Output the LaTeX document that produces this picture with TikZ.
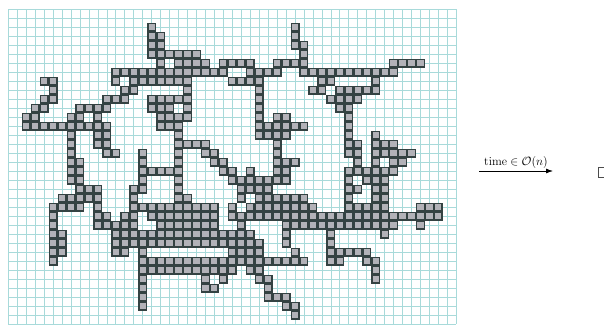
\documentclass[tikz,border=0pt]{standalone}
\usetikzlibrary{arrows.meta}
\definecolor{gridc}{RGB}{168,218,218}
\definecolor{cellfill}{RGB}{178,178,184}
\definecolor{celldraw}{RGB}{52,66,66}
\tikzset{
  gridline/.style={draw=gridc, line width=0.7pt},
  cellbox/.style={fill=cellfill, draw=celldraw, line width=1.4pt},
  arrowline/.style={draw=black, line width=0.8pt, -{Latex[length=7pt,width=5pt]}}
}
\begin{document}
\begin{tikzpicture}[x=1pt,y=-1pt]
\useasboundingbox (0,0) rectangle (604,329);
\fill[white] (0,0) rectangle (604,329);
% grid
\foreach \k in {0,...,50} {\draw[gridline] ({8.3+8.96*\k},9.3) -- ({8.3+8.96*\k},324.3);}
\foreach \k in {0,...,35} {\draw[gridline] (8.3,{9.3+9*\k}) -- (456.3,{9.3+9*\k});}
% occupied sites: row / list of column ranges first/last
\foreach \j/\list in {
 2/{16/16,32/32},
 3/{16/17,32/32},
 4/{16/17,32/33},
 5/{16/21,33/33},
 6/{17/17,19/22,24/27,30/33,43/46},
 7/{12/24,27/30,33/43},
 8/{4/5,12/12,14/20,25/28,35/36,41/41},
 9/{5/5,13/14,20/20,28/28,34/35,37/41},
 10/{4/5,11/13,16/20,28/28,36/39},
 11/{3/4,8/11,16/18,20/20,28/28,37/38},
 12/{2/3,7/8,10/10,17/20,28/28,30/31,38/38},
 13/{2/11,17/19,28/33,38/38},
 14/{7/7,10/11,19/19,28/31,38/38,41/41},
 15/{7/7,10/11,19/22,30/30,38/39,41/43},
 16/{7/7,11/12,15/15,19/19,22/23,30/30,38/39,41/45},
 17/{7/8,15/15,19/19,23/24,30/32,39/39,41/41,43/44},
 18/{7/8,15/19,24/25,27/27,30/31,38/43},
 19/{7/8,15/15,19/19,25/31,38/38,40/42},
 20/{8/10,14/15,19/19,26/29,38/39,41/42},
 21/{6/10,14/14,19/20,26/26,28/33,38/38,41/42},
 22/{5/8,10/10,14/23,25/25,27/34,38/42,46/48},
 23/{5/5,10/11,13/14,16/23,25/48},
 24/{5/5,10/14,17/23,26/26,31/43,46/46},
 25/{5/6,12/27,31/31,36/36,42/42},
 26/{5/6,12/28,31/31,36/36},
 27/{5/6,12/13,15/15,25/28,32/32,36/40},
 28/{5/5,15/33,36/37,40/41},
 29/{15/25,27/28,41/41},
 30/{15/15,22/22,24/24,28/29,41/41},
 31/{15/15,22/23,29/29},
 32/{15/15,29/31},
 33/{15/15,31/32},
 34/{32/32}} {
  \foreach \a/\b in \list {
    \foreach \i in {\a,...,\b} {
      \path[cellbox] ({8.3+8.96*\i-3.8},{9.3+9*\j-3.8}) rectangle ++(7.6,7.6);
    }
  }
}
% arrow with label
\coordinate (arrowstart) at (479,171);
\coordinate (arrowend) at (553,171);
\draw[arrowline] (arrowstart) -- node[above=1pt, inner sep=1pt, font=\fontsize{12.5}{14}\selectfont] {$\mathrm{time}\in\mathcal{O}(n)$} (arrowend);
% partially visible mark at the right border
\draw[draw=black!70, line width=0.8pt] (598.5,167) rectangle (608,177);
\end{tikzpicture}
\end{document}
